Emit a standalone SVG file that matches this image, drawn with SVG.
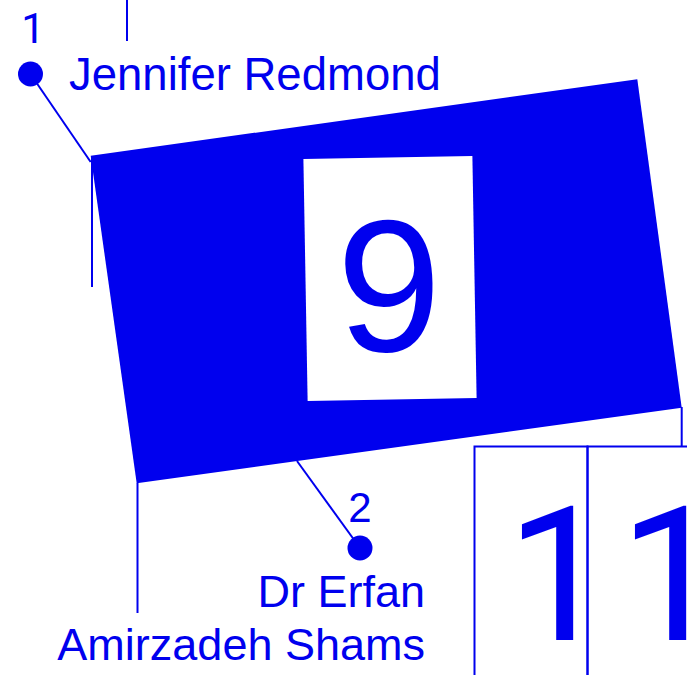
<svg xmlns="http://www.w3.org/2000/svg" width="687" height="675" viewBox="0 0 687 675">
<style>
.ln{stroke:#0000ee;stroke-width:2;fill:none}
.tx{fill:#0000ee;font-family:"Liberation Sans",Arial,Helvetica,sans-serif}
.one{font-family:Roboto,"Liberation Sans",sans-serif}
.lab{font-size:45px}
.big{font-size:188px}
.dot{fill:#0000ee}
</style>
<rect width="687" height="675" fill="#ffffff"/>
<g id="main-block">
<polygon points="90.7,155.7 637.3,79.3 681.7,407.7 136.7,483.3" fill="#0000ee"/>
<g transform="rotate(-1 390 278.5)">
<rect x="305.5" y="157.5" width="169" height="242" fill="#ffffff"/>
<text class="tx big" x="389" y="351" text-anchor="middle">9</text>
</g>
</g>
<g id="tiles">
<rect class="ln" x="474.5" y="446.5" width="113" height="240"/>
<rect class="ln" x="587.5" y="446.5" width="113" height="240"/>
<text class="tx one big" x="559" y="640" text-anchor="middle">1</text>
<text class="tx one big" x="672" y="640" text-anchor="middle">1</text>
</g>
<g id="label-1">
<text class="tx one" x="33" y="43" text-anchor="middle" style="font-size:42px">1</text>
<circle class="dot" cx="30.5" cy="74" r="12.5"/>
<text class="tx lab" x="69" y="90" style="font-size:45.5px">Jennifer Redmond</text>
</g>
<g id="label-2">
<text class="tx lab" x="360" y="522" text-anchor="middle" style="font-size:42px">2</text>
<circle class="dot" cx="360" cy="548" r="12.5"/>
<text class="tx lab" x="425" y="607" text-anchor="end">Dr Erfan</text>
<text class="tx lab" x="425" y="660" text-anchor="end">Amirzadeh Shams</text>
</g>
<g id="connectors">
<line class="ln" x1="30.5" y1="74" x2="90.7" y2="162"/>
<line class="ln" x1="360" y1="548" x2="297" y2="461"/>
<line class="ln" x1="92" y1="157" x2="92" y2="287"/>
<line class="ln" x1="127" y1="0" x2="127" y2="41"/>
<line class="ln" x1="137.5" y1="483" x2="137.5" y2="613"/>
<line class="ln" x1="681.7" y1="407" x2="681.7" y2="446"/>
</g>
</svg>
